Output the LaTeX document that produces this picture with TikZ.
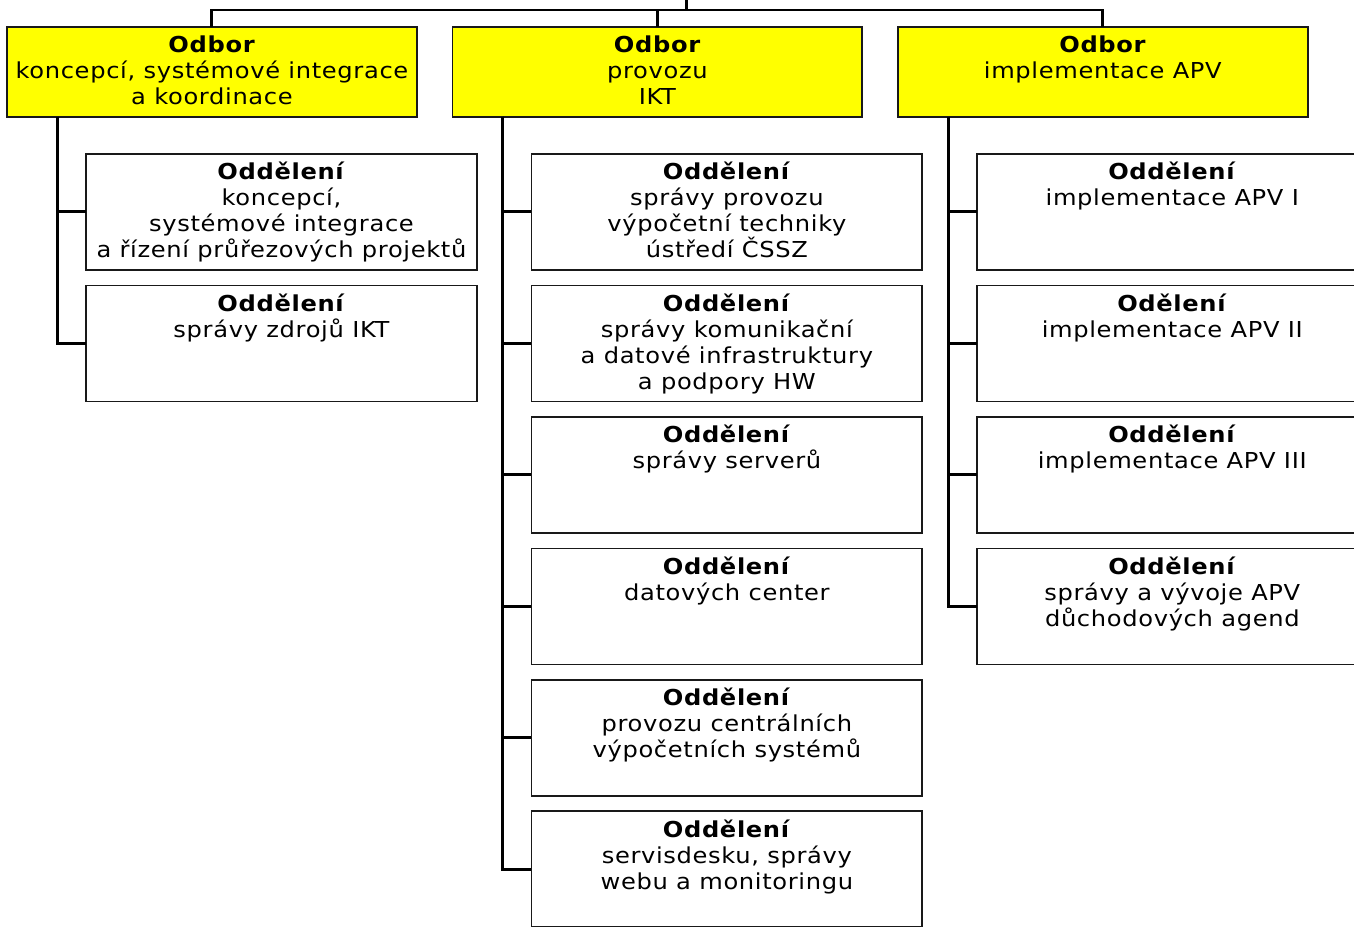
\documentclass[tikz,border=0pt]{standalone}
\usepackage{fontspec}
\setmainfont[FakeStretch=1.1, LetterSpace=3]{DejaVu Sans}
\usetikzlibrary{positioning}
\definecolor{odboryellow}{RGB}{255,255,0}

\begin{document}
\begin{tikzpicture}[
    x=0.02cm, y=-0.02cm,
    node distance=0.31cm and 0.71cm,
    odbor/.style={draw=black!90, fill=odboryellow, line width=1pt, minimum width=8.2cm, minimum height=1.8cm, inner sep=0pt, outer sep=0pt},
    dept/.style={draw=black!90, line width=1pt, minimum width=7.82cm, minimum height=2.32cm, inner sep=0pt, outer sep=0pt},
    txt/.style={font=\fontsize{12.5}{14.8}\selectfont, align=center, inner sep=0pt, anchor=north},
    conn/.style={line width=1.7pt},
]
\useasboundingbox (0,0) rectangle (1354,926);
\clip (0,0) rectangle (1354,926);

% Top: the three departments
\node[odbor, anchor=north west] (o1) at (7,27) {};
\node[odbor, right=of o1] (o2) {};
\node[odbor, right=of o2] (o3) {};

\node[txt] (o1t) at ([yshift=-0.16cm]o1.north) {\textbf{Odbor}\\koncepcí, systémové integrace\\a koordinace};
\node[txt] (o2t) at ([yshift=-0.16cm]o2.north) {\textbf{Odbor}\\provozu\\IKT};
\node[txt] (o3t) at ([yshift=-0.16cm]o3.north) {\textbf{Odbor}\\implementace APV};

% Bus from above
\coordinate (root) at (686,0);
\coordinate (bus) at (686,10);
\draw[conn] (root) -- (bus);
\draw[conn] (o1.north) |- (bus) -| (o3.north);
\draw[conn] (o2.north) -- (o2.north |- bus);

% Left column
\node[dept, anchor=north west] (d11) at ([xshift=1.58cm, yshift=-0.74cm]o1.south west) {};
\node[dept, below=of d11] (d12) {};

\node[txt] (d11t) at ([yshift=-0.16cm]d11.north) {\textbf{Oddělení}\\koncepcí,\\systémové integrace\\a řízení průřezových projektů};
\node[txt] (d12t) at ([yshift=-0.16cm]d12.north) {\textbf{Oddělení}\\správy zdrojů IKT};

\coordinate (t1) at ([xshift=1.02cm]o1.south west);
\draw[conn] (t1) |- (d11.west);
\draw[conn] (t1) |- (d12.west);

% Middle column
\node[dept, anchor=north west] (d21) at ([xshift=1.58cm, yshift=-0.74cm]o2.south west) {};
\node[dept, below=of d21] (d22) {};
\node[dept, below=of d22] (d23) {};
\node[dept, below=of d23] (d24) {};
\node[dept, below=of d24] (d25) {};
\node[dept, below=of d25] (d26) {};

\node[txt] (d21t) at ([yshift=-0.16cm]d21.north) {\textbf{Oddělení}\\správy provozu\\výpočetní techniky\\ústředí ČSSZ};
\node[txt] (d22t) at ([yshift=-0.16cm]d22.north) {\textbf{Oddělení}\\správy komunikační\\a datové infrastruktury\\a podpory HW};
\node[txt] (d23t) at ([yshift=-0.16cm]d23.north) {\textbf{Oddělení}\\správy serverů};
\node[txt] (d24t) at ([yshift=-0.16cm]d24.north) {\textbf{Oddělení}\\datových center};
\node[txt] (d25t) at ([yshift=-0.16cm]d25.north) {\textbf{Oddělení}\\provozu centrálních\\výpočetních systémů};
\node[txt] (d26t) at ([yshift=-0.16cm]d26.north) {\textbf{Oddělení}\\servisdesku, správy\\webu a monitoringu};

\coordinate (t2) at ([xshift=1.0cm]o2.south west);
\foreach \i in {1,...,6}
  \draw[conn] (t2) |- (d2\i.west);

% Right column
\node[dept, anchor=north west] (d31) at ([xshift=1.58cm, yshift=-0.74cm]o3.south west) {};
\node[dept, below=of d31] (d32) {};
\node[dept, below=of d32] (d33) {};
\node[dept, below=of d33] (d34) {};

\node[txt] (d31t) at ([yshift=-0.16cm]d31.north) {\textbf{Oddělení}\\implementace APV I};
\node[txt] (d32t) at ([yshift=-0.16cm]d32.north) {\textbf{Odělení}\\implementace APV II};
\node[txt] (d33t) at ([yshift=-0.16cm]d33.north) {\textbf{Oddělení}\\implementace APV III};
\node[txt] (d34t) at ([yshift=-0.16cm]d34.north) {\textbf{Oddělení}\\správy a vývoje APV\\důchodových agend};

\coordinate (t3) at ([xshift=1.02cm]o3.south west);
\foreach \i in {1,...,4}
  \draw[conn] (t3) |- (d3\i.west);

\end{tikzpicture}
\end{document}
